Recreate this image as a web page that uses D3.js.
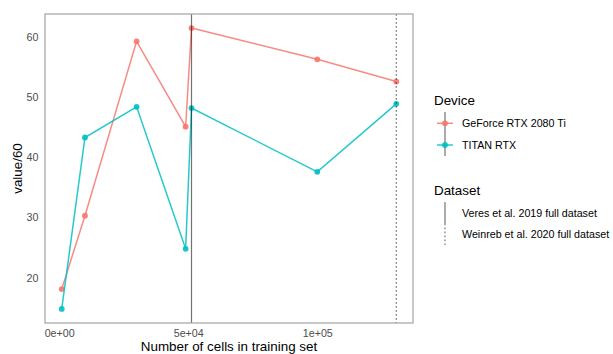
<!DOCTYPE html>
<html><head><meta charset="utf-8">
<script src="https://cdn.jsdelivr.net/npm/d3@7"></script>
<style>body{margin:0;background:#fff}svg{display:block;font-family:"Liberation Sans",Arial,Helvetica,sans-serif}</style>
</head><body><svg id="c" width="613" height="354"></svg>
<script>
const cells = [1000, 10000, 30000, 49000, 51274, 100000, 130600];
const devices = ["GeForce RTX 2080 Ti", "TITAN RTX"];
const geforce = [18.1, 30.3, 59.3, 45.1, 61.5, 56.3, 52.6];
const titan = [14.8, 43.3, 48.4, 24.8, 48.2, 37.6, 48.9];
const datasets = ["Veres et al. 2019 full dataset", "Weinreb et al. 2020 full dataset"];
const datasetCells = [51274, 130600];
const xTicks = [0, 50000, 100000];
const xTickLabels = ["0e+00", "5e+04", "1e+05"];
const yTicks = [20, 30, 40, 50, 60];

const colors = ["#F8766D", "#00BFC4"];
const dashes = [null, "1.8,2.2"];
const series = [geforce, titan];

const svg = d3.select("#c");
const L = 45, R = 413, T = 14, B = 323;

const xe = d3.extent(cells), xp = (xe[1] - xe[0]) * 0.05;
const allY = geforce.concat(titan);
const ye = d3.extent(allY), yp = (ye[1] - ye[0]) * 0.05;
const x = d3.scaleLinear().domain([xe[0] - xp, xe[1] + xp]).range([L, R]);
const y = d3.scaleLinear().domain([ye[0] - yp, ye[1] + yp]).range([B, T]);

// axes (labels only)
const xa = svg.append("g").attr("transform", `translate(0,${B})`)
  .call(d3.axisBottom(x).tickValues(xTicks).tickFormat((d, i) => xTickLabels[i]).tickSize(0).tickPadding(6));
xa.select(".domain").remove();
xa.selectAll("text").attr("font-size", 10.7).attr("fill", "#4D4D4D").attr("font-family", "Liberation Sans, Arial, sans-serif");
const ya = svg.append("g").attr("transform", `translate(${L},0)`)
  .call(d3.axisLeft(y).tickValues(yTicks).tickSize(0).tickPadding(6.5));
ya.select(".domain").remove();
ya.selectAll("text").attr("font-size", 10.7).attr("fill", "#4D4D4D").attr("font-family", "Liberation Sans, Arial, sans-serif");

// series
const line = d3.line().x((d, i) => x(cells[i])).y(d => y(d));
series.forEach((s, k) => {
  svg.append("path").datum(s).attr("d", line).attr("fill", "none")
    .attr("stroke", colors[k]).attr("stroke-width", 1.5).attr("stroke-opacity", 0.85);
  svg.append("g").selectAll("circle").data(s).join("circle")
    .attr("cx", (d, i) => x(cells[i])).attr("cy", d => y(d)).attr("r", 2.9)
    .attr("fill", colors[k]).attr("fill-opacity", 0.9);
});

// vlines
datasetCells.forEach((v, k) => {
  svg.append("line").attr("x1", x(v)).attr("x2", x(v)).attr("y1", T).attr("y2", B)
    .attr("stroke", "#000").attr("stroke-opacity", 0.55).attr("stroke-width", 1.2)
    .attr("stroke-dasharray", dashes[k]);
});

// panel border
svg.append("rect").attr("x", L).attr("y", T).attr("width", R - L).attr("height", B - T)
  .attr("fill", "none").attr("stroke", "#A3A3A3").attr("stroke-width", 1.2);

// axis titles
svg.append("text").attr("x", (L + R) / 2).attr("y", 350.5).attr("text-anchor", "middle")
  .attr("font-size", 13.4).attr("fill", "#000").text("Number of cells in training set");
svg.append("text").attr("transform", `translate(21.5,${(T + B) / 2}) rotate(-90)`).attr("text-anchor", "middle")
  .attr("font-size", 13.4).attr("fill", "#000").text("value/60");

// legend: Device
const kx = 445, tx = 462;
svg.append("text").attr("x", 434).attr("y", 105).attr("font-size", 13.4).text("Device");
const dY = [123.3, 145];
svg.append("line").attr("x1", kx).attr("x2", kx).attr("y1", 112).attr("y2", 156)
  .attr("stroke", "#000").attr("stroke-opacity", 0.55).attr("stroke-width", 1.2);
devices.forEach((d, k) => {
  svg.append("line").attr("x1", kx - 8).attr("x2", kx + 8).attr("y1", dY[k]).attr("y2", dY[k])
    .attr("stroke", colors[k]).attr("stroke-width", 1.5).attr("stroke-opacity", 0.85);
  svg.append("circle").attr("cx", kx).attr("cy", dY[k]).attr("r", 2.9).attr("fill", colors[k]).attr("fill-opacity", 0.9);
  svg.append("text").attr("x", tx).attr("y", dY[k] + 3.8).attr("font-size", 10.7).attr("fill", "#000").text(d);
});

// legend: Dataset
svg.append("text").attr("x", 434).attr("y", 195).attr("font-size", 13.4).text("Dataset");
const sY = [[202, 223.5], [223.5, 245]], tY = [212.7, 234];
datasets.forEach((d, k) => {
  svg.append("line").attr("x1", kx).attr("x2", kx).attr("y1", sY[k][0]).attr("y2", sY[k][1])
    .attr("stroke", "#000").attr("stroke-opacity", 0.55).attr("stroke-width", 1.2)
    .attr("stroke-dasharray", dashes[k]);
  svg.append("text").attr("x", tx).attr("y", tY[k] + 3.8).attr("font-size", 10.7).attr("fill", "#000").text(d);
});
</script></body></html>
